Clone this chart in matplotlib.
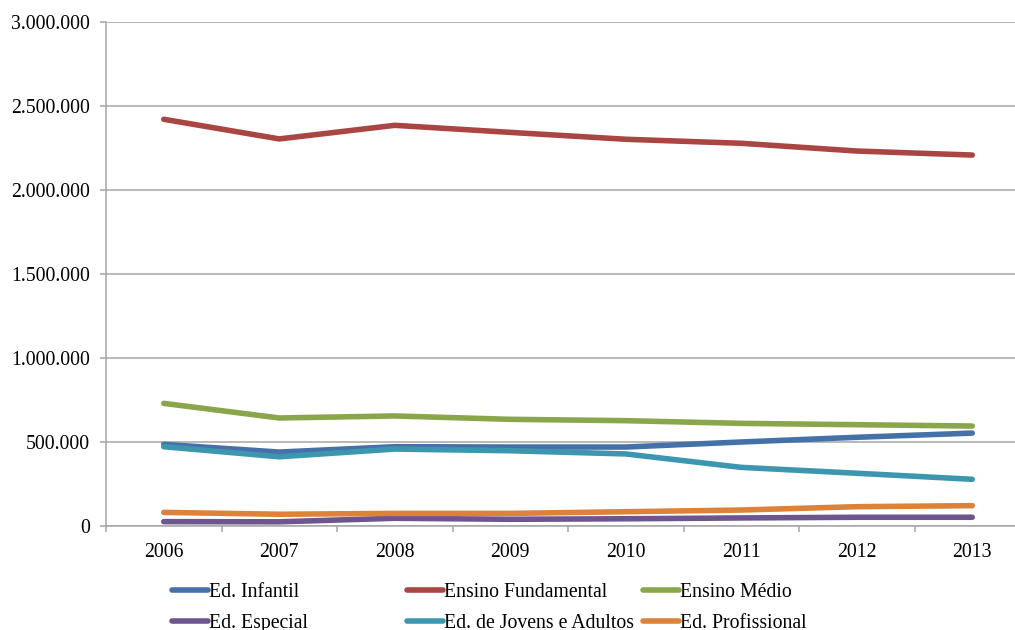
import matplotlib.pyplot as plt
from matplotlib.ticker import FuncFormatter, MultipleLocator, FixedLocator

YEARS = ['2006', '2007', '2008', '2009', '2010', '2011', '2012', '2013']

ed_infantil = [486000, 440000, 472000, 470000, 470000, 500000, 528000, 553000]
ensino_fundamental = [2421000, 2304000, 2385000, 2343000, 2302000, 2278000, 2232000, 2208000]
ensino_medio = [730000, 643000, 655000, 635000, 627000, 611000, 603000, 595000]
ed_especial = [26000, 25000, 46000, 40000, 43000, 48000, 52000, 52000]
ed_jovens_adultos = [472000, 412000, 458000, 448000, 429000, 349000, 314000, 278000]
ed_profissional = [81000, 70000, 75000, 75000, 85000, 95000, 115000, 121000]

SERIES = [
    ('Ed. Infantil', ed_infantil, '#4571a9'),
    ('Ensino Fundamental', ensino_fundamental, '#a94542'),
    ('Ensino Médio', ensino_medio, '#8aa64b'),
    ('Ed. Especial', ed_especial, '#6d5590'),
    ('Ed. de Jovens e Adultos', ed_jovens_adultos, '#3d96b0'),
    ('Ed. Profissional', ed_profissional, '#dd8239'),
]

GRID = '#a6a6a6'


def thousands(v, pos):
    return f'{int(v):,}'.replace(',', '.')


def main():
    plt.rcParams['font.family'] = ['Liberation Serif', 'DejaVu Serif']
    fig = plt.figure(figsize=(10.15, 6.30), dpi=100)
    ax = fig.add_axes([106 / 1015, 104 / 630, 924 / 1015, 504 / 630])

    x = range(len(YEARS))
    lines = []
    for name, vals, color in SERIES:
        ln, = ax.plot(x, vals, color=color, lw=4, solid_capstyle='round',
                      solid_joinstyle='round', label=name, zorder=3)
        lines.append(ln)

    ax.set_xlim(-0.5, len(YEARS) - 0.5)
    ax.set_ylim(0, 3000000)
    ax.yaxis.set_major_locator(MultipleLocator(500000))
    ax.yaxis.set_major_formatter(FuncFormatter(thousands))
    ax.set_xticks(list(x))
    ax.set_xticklabels(YEARS)
    ax.xaxis.set_minor_locator(FixedLocator([i - 0.5 for i in range(len(YEARS) + 1)]))

    ax.grid(axis='y', color=GRID, lw=1.1, zorder=0)
    for side in ('top', 'right'):
        ax.spines[side].set_visible(False)
    for side in ('left', 'bottom'):
        ax.spines[side].set_color(GRID)
        ax.spines[side].set_linewidth(1.1)

    ax.tick_params(axis='y', length=4.3, width=1.1, color=GRID, pad=7,
                   labelsize=14.2, labelcolor='black')
    ax.tick_params(axis='x', which='major', length=0, pad=12,
                   labelsize=14.2, labelcolor='black')
    ax.tick_params(axis='x', which='minor', length=4.3, width=1.1, color=GRID)

    # three legend columns, two entries each
    col_x = [172 / 1015, 407 / 1015, 643 / 1015]
    for i, cx in enumerate(col_x):
        leg = fig.legend(handles=[lines[i], lines[i + 3]], loc='upper left',
                         bbox_to_anchor=(cx, 47 / 630), frameon=False,
                         fontsize=14.2, handlelength=1.8, handletextpad=0.1,
                         labelspacing=0.62, borderpad=0, borderaxespad=0)
        for t in leg.get_texts():
            t.set_color('black')

    fig.savefig('out.png', dpi=100)


if __name__ == '__main__':
    main()
